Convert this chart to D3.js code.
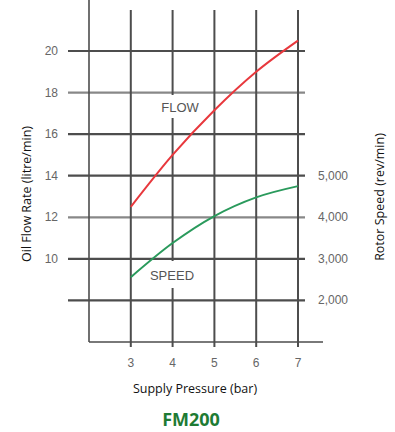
<!DOCTYPE html>
<html>
<head>
<meta charset="utf-8">
<script src="https://cdn.jsdelivr.net/npm/d3@7"></script>
<style>
  body { margin: 0; background: #fff; }
  svg { display: block; }
</style>
</head>
<body>
<div id="chart"></div>
<script>
// pressure in bar
var pressure = [3, 4, 5, 6, 7];
// oil flow, litre/min
var flow = [12.5, 15.0, 17.15, 19.0, 20.5];
// rotor speed, rev/min
var speed = [2560, 3380, 4030, 4480, 4750];

var xTicks = [3, 4, 5, 6, 7];
var flowGrid = [8, 10, 12, 14, 16, 18, 20];
var flowLabels = [10, 12, 14, 16, 18, 20];
var speedLabels = [2000, 3000, 4000, 5000];

var w = 395, h = 432;

var svg = d3.select("#chart").append("svg")
    .attr("width", w)
    .attr("height", h);

var x = d3.scaleLinear().domain([2, 7]).range([89, 298]);
var y = d3.scaleLinear().domain([6, 20]).range([342, 51]);
var ySpeed = d3.scaleLinear().domain([1000, 8000]).range([342, 51]);

var gridColor = "#4d4d4d";

// horizontal grid lines
svg.selectAll(".hgrid")
    .data(flowGrid)
    .enter()
    .append("line")
    .attr("x1", 68)
    .attr("x2", 305)
    .attr("y1", d => y(d))
    .attr("y2", d => y(d))
    .attr("stroke", d => (d === 18 || d === 12) ? "#888" : gridColor)
    .attr("stroke-width", 2.2);

// vertical grid lines
svg.selectAll(".vgrid")
    .data(xTicks)
    .enter()
    .append("line")
    .attr("x1", d => x(d))
    .attr("x2", d => x(d))
    .attr("y1", 10)
    .attr("y2", 347)
    .attr("stroke", gridColor)
    .attr("stroke-width", 2);

// left axis line and bottom axis line
svg.append("line")
    .attr("x1", x(2)).attr("x2", x(2))
    .attr("y1", 0).attr("y2", y(6))
    .attr("stroke", gridColor).attr("stroke-width", 1.6);

svg.append("line")
    .attr("x1", x(2)).attr("x2", 323)
    .attr("y1", y(6)).attr("y2", y(6))
    .attr("stroke", gridColor).attr("stroke-width", 1.6);

// gaps behind the curve labels
svg.append("rect").attr("x", 150).attr("y", 95).attr("width", 56).attr("height", 23).attr("fill", "#fff");
svg.append("rect").attr("x", 146).attr("y", 261).attr("width", 54).attr("height", 27).attr("fill", "#fff");

var line = d3.line().curve(d3.curveMonotoneX);

svg.append("path")
    .datum(pressure.map((p, i) => [x(p), y(flow[i])]))
    .attr("fill", "none")
    .attr("stroke", "#e8383d")
    .attr("stroke-width", 2)
    .attr("d", line);

svg.append("path")
    .datum(pressure.map((p, i) => [x(p), ySpeed(speed[i])]))
    .attr("fill", "none")
    .attr("stroke", "#2a9a5c")
    .attr("stroke-width", 2)
    .attr("d", line);

// curve labels
svg.append("text")
    .attr("x", 180).attr("y", 112)
    .attr("text-anchor", "middle")
    .style("font-family", "Liberation Sans, Arial, sans-serif")
    .style("font-size", "13px")
    .style("fill", "#555")
    .text("FLOW");

svg.append("text")
    .attr("x", 172).attr("y", 280)
    .attr("text-anchor", "middle")
    .style("font-family", "Liberation Sans, Arial, sans-serif")
    .style("font-size", "13px")
    .style("fill", "#555")
    .text("SPEED");

// tick labels
var tickFont = "Liberation Sans, Arial, sans-serif";

svg.selectAll(".ltick")
    .data(flowLabels)
    .enter()
    .append("text")
    .attr("x", 58)
    .attr("y", d => y(d) + 4)
    .attr("text-anchor", "end")
    .style("font-family", tickFont)
    .style("font-size", "12px")
    .style("fill", "#666")
    .text(d => d);

svg.selectAll(".rtick")
    .data(speedLabels)
    .enter()
    .append("text")
    .attr("x", 318)
    .attr("y", d => ySpeed(d) + 4)
    .style("font-family", tickFont)
    .style("font-size", "12px")
    .style("fill", "#666")
    .text(d => d3.format(",")(d));

svg.selectAll(".btick")
    .data(xTicks)
    .enter()
    .append("text")
    .attr("x", d => x(d))
    .attr("y", 367)
    .attr("text-anchor", "middle")
    .style("font-family", tickFont)
    .style("font-size", "12px")
    .style("fill", "#666")
    .text(d => d);

// axis titles
var titleFont = "Open Sans, Noto Sans, sans-serif";

svg.append("text")
    .attr("transform", "translate(31,194) rotate(-90)")
    .attr("text-anchor", "middle")
    .style("font-family", titleFont)
    .style("font-size", "12.5px")
    .style("fill", "#111")
    .text("Oil Flow Rate (litre/min)");

svg.append("text")
    .attr("transform", "translate(384,197) rotate(-90)")
    .attr("text-anchor", "middle")
    .style("font-family", titleFont)
    .style("font-size", "12.5px")
    .style("fill", "#111")
    .text("Rotor Speed (rev/min)");

svg.append("text")
    .attr("x", 195).attr("y", 393)
    .attr("text-anchor", "middle")
    .style("font-family", titleFont)
    .style("font-size", "12.5px")
    .style("fill", "#111")
    .text("Supply Pressure (bar)");

svg.append("text")
    .attr("x", 191).attr("y", 426)
    .attr("text-anchor", "middle")
    .style("font-family", titleFont)
    .style("font-size", "18px")
    .style("font-weight", "bold")
    .style("fill", "#1e7b34")
    .text("FM200");
</script>
</body>
</html>
